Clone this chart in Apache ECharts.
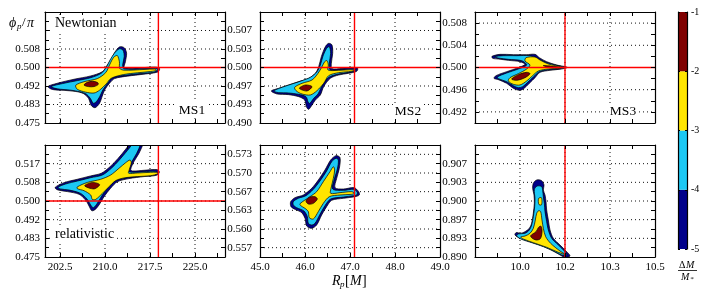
<!DOCTYPE html>
<html><head><meta charset="utf-8">
<script src="https://cdn.jsdelivr.net/npm/echarts@6/dist/echarts.min.js"></script>
<style>html,body{margin:0;padding:0;background:#fff}#c{width:710px;height:298px}</style>
</head><body><div id="c"></div>
<script>
// ---------------- axis data ----------------
const rangeMS1X = [200, 230];
const ticksMS1X = [202.5, 210.0, 217.5, 225.0];
const minorMS1X = [206.25, 213.75, 221.25, 228.75];
const labelsMS1X = ['202.5', '210.0', '217.5', '225.0'];

const rangeMS2X = [45, 49];
const ticksMS2X = [45, 46, 47, 48, 49];
const minorMS2X = [45.5, 46.5, 47.5, 48.5];
const labelsMS2X = ['45.0', '46.0', '47.0', '48.0', '49.0'];

const rangeMS3X = [9.85, 10.45];
const ticksMS3X = [10.0, 10.15, 10.3, 10.45];
const minorMS3X = [9.925, 10.075, 10.225, 10.375];
const labelsMS3X = ['10.0', '10.2', '10.3', '10.5'];

const rangeY1 = [0.475, 0.525];
const ticksY1 = [0.475, 0.483333, 0.491667, 0.5, 0.508333, 0.516667];
const minorY1 = [0.479167, 0.4875, 0.495833, 0.504167, 0.5125, 0.520833];
const labelsY1 = ['0.475', '0.483', '0.492', '0.500', '0.508'];
const labelsY4 = ['0.475', '0.483', '0.492', '0.500', '0.508', '0.517'];

const rangeY2 = [0.49, 0.51];
const ticksY2 = [0.49, 0.493333, 0.496667, 0.5, 0.503333, 0.506667];
const minorY2 = [0.491667, 0.495, 0.498333, 0.501667, 0.505, 0.508333];
const labelsY2 = ['0.490', '0.493', '0.497', '0.500', '0.503', '0.507'];

const rangeY3 = [0.49, 0.51];
const ticksY3 = [0.492, 0.496, 0.5, 0.504, 0.508];
const minorY3 = [0.494, 0.498, 0.502, 0.506];
const labelsY3 = ['0.492', '0.496', '0.500', '0.504', '0.508'];

const rangeY5 = [0.555, 0.575];
const ticksY5 = [0.556667, 0.56, 0.563333, 0.566667, 0.57, 0.573333];
const minorY5 = [0.558333, 0.561667, 0.565, 0.568333, 0.571667];
const labelsY5 = ['0.557', '0.560', '0.563', '0.567', '0.570', '0.573'];

const rangeY6 = [0.89, 0.91];
const ticksY6 = [0.89, 0.893333, 0.896667, 0.9, 0.903333, 0.906667];
const minorY6 = [0.891667, 0.895, 0.898333, 0.901667, 0.905, 0.908333];
const labelsY6 = ['0.890', '0.893', '0.897', '0.900', '0.903', '0.907'];

// true parameters (red cross-hairs)
const trueRp = [218.9, 47.1, 10.15];
const truePhi = 0.5;

// colour levels log10(dM/M*)
const levelBounds = [-5, -4, -3, -2, -1];

// ---------------- contour polygons (Rp, phi/pi) ----------------
const ms1NewNavy = [[200.5,0.4914],[202.05,0.4929],[204.83,0.4947],[207.62,0.4962],[209.55,0.4981],[210.3,0.5007],[211.1,0.5041],[211.7,0.5071],[212.45,0.5093],[213.2,0.5089],[213.6,0.5064],[213.4,0.5026],[213.25,0.5000],[215.95,0.4999],[218.45,0.5002],[219.1,0.4995],[218.83,0.4980],[216.5,0.4970],[213.72,0.4961],[211.6,0.4950],[210.75,0.4929],[209.95,0.4899],[209.5,0.4868],[209.1,0.4839],[208.35,0.4819],[207.7,0.4829],[207.25,0.4861],[206.45,0.4882],[205.12,0.4892],[203.17,0.4897],[201.22,0.4901]];
const ms1NewCyan = [[201.05,0.4914],[203.17,0.4929],[205.39,0.4941],[207.62,0.4954],[209.38,0.4974],[210.2,0.5001],[210.85,0.5034],[211.55,0.5064],[212.38,0.5084],[213.0,0.5078],[213.2,0.5049],[212.95,0.5011],[213.17,0.4994],[216.5,0.4994],[218.5,0.4996],[218.8,0.4989],[218.17,0.4979],[215.95,0.4973],[213.45,0.4965],[211.3,0.4955],[210.45,0.4929],[209.65,0.4899],[209.1,0.4868],[208.55,0.4846],[208.05,0.4839],[207.55,0.4861],[206.9,0.4880],[205.95,0.4890],[204.28,0.4898],[202.05,0.4904]];
const ms1NewYellow = [[205.12,0.4920],[206.5,0.4936],[208.72,0.4950],[210.12,0.4977],[210.8,0.5014],[211.45,0.5046],[212.05,0.5054],[212.4,0.5026],[212.45,0.4996],[213.17,0.4988],[216.5,0.4991],[218.28,0.4993],[218.55,0.4987],[217.62,0.4982],[215.38,0.4976],[213.05,0.4968],[211.0,0.4951],[210.2,0.4926],[209.1,0.4898],[208.17,0.4885],[206.78,0.4889],[205.38,0.4902]];
const ms1NewRed = [[206.5,0.4921],[207.05,0.4933],[207.88,0.4938],[208.72,0.4933],[208.88,0.4924],[208.17,0.4914],[207.22,0.4914]];

const ms2NewNavy = [[45.252,0.49577],[45.415,0.49625],[45.637,0.49685],[45.859,0.49745],[46.081,0.49805],[46.230,0.49895],[46.304,0.50015],[46.363,0.50195],[46.452,0.50375],[46.526,0.50435],[46.6,0.50405],[46.615,0.50255],[46.585,0.50075],[46.6,0.49979],[46.822,0.49985],[47.044,0.50003],[47.170,0.49985],[47.148,0.49931],[46.970,0.49895],[46.748,0.49865],[46.563,0.49805],[46.415,0.49655],[46.341,0.49505],[46.230,0.49414],[46.156,0.49324],[46.081,0.49246],[46.030,0.49294],[45.993,0.49414],[45.859,0.49475],[45.637,0.49511],[45.378,0.49523]];
const ms2NewCyan = [[45.311,0.49577],[45.489,0.49643],[45.711,0.49703],[45.933,0.49763],[46.119,0.49823],[46.267,0.49925],[46.341,0.50045],[46.4,0.50207],[46.481,0.50345],[46.541,0.50375],[46.570,0.50255],[46.541,0.50075],[46.563,0.49955],[46.822,0.49961],[47.044,0.49973],[47.126,0.49961],[47.104,0.49937],[46.970,0.49913],[46.748,0.49883],[46.526,0.49823],[46.378,0.49667],[46.289,0.49523],[46.193,0.49444],[46.104,0.49354],[46.067,0.49384],[46.022,0.49475],[45.859,0.49517],[45.637,0.49541],[45.415,0.49547]];
const ms2NewYellow = [[45.770,0.49643],[45.933,0.49715],[46.156,0.49775],[46.289,0.49895],[46.378,0.50015],[46.437,0.50105],[46.489,0.50123],[46.519,0.50045],[46.511,0.49955],[46.748,0.49949],[47.044,0.49961],[47.096,0.49943],[46.970,0.49925],[46.748,0.49907],[46.526,0.49853],[46.415,0.49715],[46.267,0.49583],[46.119,0.49505],[45.933,0.49523],[45.8,0.49583]];
const ms2NewRed = [[45.874,0.49625],[46.007,0.49685],[46.156,0.49655],[46.044,0.49577]];

const ms3NewNavy = [[9.9067,0.50201],[9.9333,0.50237],[9.9778,0.50231],[10.0222,0.50231],[10.05,0.50237],[10.0644,0.50177],[10.0889,0.50105],[10.1222,0.50045],[10.1578,0.50003],[10.1389,0.49973],[10.1,0.49949],[10.0667,0.49913],[10.05,0.49817],[10.0311,0.49715],[10.0111,0.49613],[9.9978,0.49589],[9.9778,0.49625],[9.9556,0.49715],[9.9278,0.49781],[9.9133,0.49805],[9.92,0.49853],[9.9556,0.49925],[9.9944,0.49997],[10.0167,0.50057],[10.0,0.50105],[9.9611,0.50129],[9.9278,0.50153],[9.9089,0.50165]];
const ms3NewCyan = [[9.9156,0.50195],[9.9444,0.50213],[9.9889,0.50213],[10.0333,0.50213],[10.0556,0.50165],[10.0889,0.50087],[10.1278,0.50033],[10.15,0.49997],[10.1278,0.49979],[10.0944,0.49961],[10.0644,0.49925],[10.0444,0.49829],[10.0256,0.49733],[10.0089,0.49655],[9.9944,0.49637],[9.9778,0.49673],[9.9556,0.49745],[9.9278,0.49799],[9.9244,0.49829],[9.9556,0.49901],[9.9944,0.49973],[10.0222,0.50045],[10.0056,0.50123],[9.9611,0.50147],[9.9278,0.50171]];
const ms3NewYellow = [[10.02,0.50177],[10.05,0.50189],[10.0667,0.50135],[10.0944,0.50063],[10.1389,0.50009],[10.1333,0.49985],[10.0944,0.49973],[10.0611,0.49937],[10.0422,0.49853],[10.0222,0.49757],[10.0,0.49685],[9.9778,0.49697],[9.9611,0.49757],[9.9667,0.49817],[9.9944,0.49889],[10.0222,0.49973],[10.0333,0.50045],[10.0167,0.50117]];
const ms3NewRed = [[9.9722,0.49793],[9.9944,0.49871],[10.0222,0.49913],[10.0333,0.49889],[10.0167,0.49817],[9.9889,0.49769]];
const ms3NewRed2 = [[10.0778,0.50033],[10.1111,0.50021],[10.1333,0.50003],[10.1056,0.49997]];

const ms1RelNavy = [[201.67,0.5060],[203.17,0.5082],[205.39,0.5097],[207.61,0.5112],[209.39,0.5124],[210.83,0.5153],[212.17,0.5190],[213.44,0.5231],[214.39,0.5265],[215.11,0.5295],[216.78,0.5295],[216.39,0.5257],[215.67,0.5213],[214.83,0.5176],[214.28,0.5141],[214.56,0.5134],[216.5,0.5137],[218.72,0.5140],[219.06,0.5129],[218.61,0.5115],[216.5,0.5109],[214.0,0.5100],[212.06,0.5086],[210.94,0.5057],[209.83,0.5019],[209.0,0.4982],[208.28,0.4960],[207.78,0.4957],[207.33,0.4978],[206.78,0.5004],[205.67,0.5030],[203.72,0.5042],[202.17,0.5049]];
const ms1RelCyan = [[202.17,0.5061],[203.44,0.5076],[205.39,0.5089],[207.61,0.5104],[209.56,0.5116],[211.06,0.5146],[212.39,0.5183],[213.72,0.5225],[214.61,0.5257],[215.28,0.5295],[216.28,0.5295],[215.94,0.5254],[215.28,0.5213],[214.39,0.5171],[213.83,0.5135],[214.56,0.5128],[216.5,0.5131],[218.44,0.5132],[218.72,0.5125],[218.17,0.5118],[216.5,0.5115],[214.0,0.5106],[211.94,0.5094],[210.67,0.5064],[209.56,0.5027],[208.72,0.4990],[208.06,0.4970],[207.61,0.4982],[207.06,0.5007],[205.94,0.5034],[204.0,0.5049],[202.5,0.5054]];
const ms1RelYellow = [[205.39,0.5063],[207.06,0.5083],[209.28,0.5097],[210.94,0.5116],[212.33,0.5146],[213.44,0.5171],[214.17,0.5183],[214.39,0.5171],[214.06,0.5141],[213.94,0.5124],[215.39,0.5125],[217.61,0.5128],[218.61,0.5128],[218.83,0.5122],[217.61,0.5113],[215.39,0.5109],[213.17,0.5103],[211.78,0.5091],[210.67,0.5064],[209.56,0.5034],[208.44,0.5007],[207.89,0.5007],[207.61,0.5027],[206.5,0.5046],[205.39,0.5055]];
const ms1RelRed = [[206.61,0.5068],[207.89,0.5083],[209.11,0.5073],[208.17,0.5054]];

const ms2RelNavy = [[45.681,0.56488],[45.778,0.56560],[45.963,0.56607],[46.148,0.56726],[46.296,0.56875],[46.444,0.57054],[46.570,0.57232],[46.689,0.57310],[46.778,0.57274],[46.763,0.57083],[46.704,0.56905],[46.667,0.56738],[46.852,0.56714],[47.089,0.56738],[47.193,0.56667],[47.207,0.56607],[47.111,0.56577],[46.852,0.56548],[46.593,0.56512],[46.481,0.56399],[46.370,0.5625],[46.259,0.56071],[46.148,0.56012],[46.037,0.56054],[46.0,0.56190],[45.926,0.56292],[45.778,0.56351],[45.689,0.56399]];
const ms2RelCyan = [[45.741,0.56488],[45.852,0.56548],[46.022,0.56595],[46.185,0.56708],[46.333,0.56857],[46.481,0.57036],[46.593,0.57202],[46.689,0.57262],[46.741,0.57232],[46.719,0.57071],[46.652,0.56893],[46.615,0.56714],[46.852,0.56690],[47.089,0.56708],[47.163,0.56649],[47.148,0.56607],[47.074,0.56595],[46.852,0.56571],[46.570,0.56536],[46.444,0.56417],[46.333,0.56262],[46.222,0.56101],[46.148,0.56071],[46.074,0.56101],[46.052,0.56220],[45.978,0.56321],[45.815,0.56381],[45.741,0.56429]];
const ms2RelYellow = [[45.889,0.56452],[46.111,0.56577],[46.259,0.56667],[46.407,0.56845],[46.556,0.57024],[46.630,0.57113],[46.659,0.57054],[46.630,0.56905],[46.578,0.56726],[46.570,0.56637],[46.778,0.56649],[47.037,0.56667],[47.096,0.56637],[47.037,0.56619],[46.778,0.56607],[46.541,0.56577],[46.407,0.56458],[46.296,0.56310],[46.185,0.56179],[46.096,0.56202],[46.074,0.56310],[46.0,0.56369],[45.904,0.56417]];
const ms2RelRed = [[46.022,0.56500],[46.096,0.56566],[46.222,0.56577],[46.274,0.56536],[46.185,0.56458],[46.074,0.56446]];

const ms3RelNavy = [[10.0444,0.90316],[10.0556,0.90375],[10.0722,0.90363],[10.08,0.90286],[10.0778,0.90196],[10.0833,0.90107],[10.0867,0.89988],[10.0889,0.89839],[10.0944,0.89661],[10.1,0.89482],[10.1111,0.89333],[10.1333,0.89214],[10.1556,0.89095],[10.1667,0.89018],[10.15,0.88994],[10.1278,0.89054],[10.1,0.89137],[10.0667,0.89214],[10.0333,0.89274],[10.0,0.89333],[9.9833,0.89393],[9.9867,0.89435],[10.0022,0.89423],[10.0167,0.89452],[10.0311,0.89512],[10.0389,0.89601],[10.0444,0.89780],[10.0478,0.89958],[10.0467,0.90107],[10.0422,0.90226]];
const ms3RelCyan = [[10.0478,0.90208],[10.0578,0.90268],[10.0722,0.90256],[10.0756,0.90185],[10.0778,0.90077],[10.0811,0.89958],[10.0833,0.89810],[10.0889,0.89631],[10.0944,0.89482],[10.1056,0.89333],[10.1278,0.89214],[10.15,0.89095],[10.1556,0.89036],[10.1389,0.89036],[10.1111,0.89107],[10.0778,0.89185],[10.0389,0.89256],[10.0056,0.89315],[9.9889,0.89375],[9.9944,0.89411],[10.0167,0.89423],[10.0311,0.89482],[10.0389,0.89571],[10.0444,0.89720],[10.0489,0.89899],[10.05,0.90048]];
const ms3RelYellow = [[10.0622,0.89827],[10.0689,0.89810],[10.0733,0.89661],[10.0778,0.89512],[10.0856,0.89363],[10.1022,0.89244],[10.1333,0.89107],[10.15,0.89048],[10.1278,0.89083],[10.0889,0.89173],[10.0444,0.89256],[10.0111,0.89321],[10.0022,0.89357],[10.0167,0.89375],[10.0333,0.89423],[10.0444,0.89512],[10.0511,0.89661],[10.0556,0.89780]];
const ms3RelYellow2 = [[10.0622,0.90048],[10.0711,0.90060],[10.0733,0.89988],[10.0711,0.89929],[10.0633,0.89935],[10.0611,0.89988]];
const ms3RelRed = [[10.0533,0.89452],[10.0611,0.89524],[10.0689,0.89553],[10.0733,0.89494],[10.0722,0.89393],[10.0667,0.89321],[10.0533,0.89304],[10.04,0.89339],[10.0356,0.89381]];

// ---------------- styles / layout ----------------
const FONT = 'Liberation Serif';
const levelColors = ['#00008a', '#1cc8f4', '#ffe500', '#7f0000'];

const panels = [
  {box:[45,12,180,111], xr:rangeMS1X, xt:ticksMS1X, xm:minorMS1X, xl:labelsMS1X, showX:false,
   yr:rangeY1, yt:ticksY1, ym:minorY1, yl:labelsY1, ym2:5, rp:trueRp[0],
   polys:[ms1NewNavy, ms1NewCyan, ms1NewYellow, ms1NewRed], lv:[0,1,2,3]},
  {box:[260,12,180,111], xr:rangeMS2X, xt:ticksMS2X, xm:minorMS2X, xl:labelsMS2X, showX:false,
   yr:rangeY2, yt:ticksY2, ym:minorY2, yl:labelsY2, ym2:8, rp:trueRp[1],
   polys:[ms2NewNavy, ms2NewCyan, ms2NewYellow, ms2NewRed], lv:[0,1,2,3]},
  {box:[475,12,180,111], xr:rangeMS3X, xt:ticksMS3X, xm:minorMS3X, xl:labelsMS3X, showX:false,
   yr:rangeY3, yt:ticksY3, ym:minorY3, yl:labelsY3, ym2:8, rp:trueRp[2],
   polys:[ms3NewNavy, ms3NewCyan, ms3NewYellow, ms3NewRed, ms3NewRed2], lv:[0,1,2,3,3]},
  {box:[45,145,180,112], xr:rangeMS1X, xt:ticksMS1X, xm:minorMS1X, xl:labelsMS1X, showX:true,
   yr:rangeY1, yt:ticksY1, ym:minorY1, yl:labelsY4, ym2:5, rp:trueRp[0],
   polys:[ms1RelNavy, ms1RelCyan, ms1RelYellow, ms1RelRed], lv:[0,1,2,3]},
  {box:[260,145,180,112], xr:rangeMS2X, xt:ticksMS2X, xm:minorMS2X, xl:labelsMS2X, showX:true,
   yr:rangeY5, yt:ticksY5, ym:minorY5, yl:labelsY5, ym2:8, rp:trueRp[1],
   polys:[ms2RelNavy, ms2RelCyan, ms2RelYellow, ms2RelRed], lv:[0,1,2,3]},
  {box:[475,145,180,112], xr:rangeMS3X, xt:ticksMS3X, xm:minorMS3X, xl:labelsMS3X, showX:true,
   yr:rangeY6, yt:ticksY6, ym:minorY6, yl:labelsY6, ym2:8, rp:trueRp[2],
   polys:[ms3RelNavy, ms3RelCyan, ms3RelYellow, ms3RelYellow2, ms3RelRed], lv:[0,1,2,2,3]}
];

function lookup(ticks, labels) {
  return function (v) {
    for (let i = 0; i < labels.length; i++) if (Math.abs(v - ticks[i]) < 1e-6) return labels[i];
    return '';
  };
}
function clipOf(params) {
  const cs = params.coordSys;
  return {type:'rect', shape:{x:cs.x, y:cs.y, width:cs.width, height:cs.height}};
}
function segItem(color, width, dash) {
  return function (params, api) {
    const a = api.coord([api.value(0), api.value(1)]);
    const b = api.coord([api.value(2), api.value(3)]);
    return {type:'line', shape:{x1:a[0], y1:a[1], x2:b[0], y2:b[1]},
      style:{stroke:color, lineWidth:width, lineDash:dash || null}, clipPath: clipOf(params)};
  };
}

const grids = [], xAxes = [], yAxes = [], series = [];
const axLine = {show:true, onZero:false, lineStyle:{color:'#000', width:1.2}};
const tickBase = {show:true, inside:true, length:4, lineStyle:{color:'#000', width:1}};
const lblBase = {color:'#000', fontFamily:FONT, fontSize:11};

panels.forEach(function (p, i) {
  grids.push({left:p.box[0], top:p.box[1], width:p.box[2], height:p.box[3], containLabel:false, outerBoundsMode:'none'});
  const xTicks = p.xt.concat(p.xm), yTicks = p.yt.concat(p.ym);
  ['bottom', 'top'].forEach(function (pos) {
    xAxes.push({gridIndex:i, type:'value', position:pos, min:p.xr[0], max:p.xr[1], z:10,
      axisLine:axLine, axisTick:Object.assign({customValues:xTicks}, tickBase),
      axisLabel:Object.assign({show:pos === 'bottom' && p.showX, customValues:p.xt, formatter:lookup(p.xt, p.xl), margin:5}, lblBase),
      splitLine:{show:false}});
  });
  ['left', 'right'].forEach(function (pos) {
    yAxes.push({gridIndex:i, type:'value', position:pos, min:p.yr[0], max:p.yr[1], z:10,
      axisLine:axLine, axisTick:Object.assign({customValues:yTicks}, tickBase),
      axisLabel:Object.assign({show:pos === 'left', customValues:p.yt.slice(0, p.yl.length), formatter:lookup(p.yt, p.yl), margin:p.ym2}, lblBase),
      splitLine:{show:false}});
  });
  const xi = 2 * i, yi = 2 * i;
  // dotted grid
  const gl = [];
  p.xt.forEach(function (v) { if (v > p.xr[0] && v < p.xr[1]) gl.push([v, p.yr[0], v, p.yr[1]]); });
  p.yt.forEach(function (v) { if (v > p.yr[0] && v < p.yr[1]) gl.push([p.xr[0], v, p.xr[1], v]); });
  series.push({type:'custom', xAxisIndex:xi, yAxisIndex:yi, z:1, silent:true, data:gl,
    encode:{x:[0, 2], y:[1, 3]}, renderItem:segItem('#111', 1, [1, 3])});
  // filled contours
  series.push({type:'custom', xAxisIndex:xi, yAxisIndex:yi, z:2, silent:true,
    data:p.polys.map(function (poly) { return [poly[0][0], poly[0][1]]; }),
    renderItem:function (params, api) {
      const k = params.dataIndex;
      const pts = p.polys[k].map(function (q) { return api.coord(q); });
      return {type:'polygon', shape:{points:pts, smooth:0.3},
        style:{fill:levelColors[p.lv[k]], stroke:'#000', lineWidth:0.7},
        clipPath:clipOf(params)};
    }});
  // true value cross-hair
  const rl = [[p.rp, p.yr[0], p.rp, p.yr[1]]];
  if (truePhi > p.yr[0] && truePhi < p.yr[1]) rl.push([p.xr[0], truePhi, p.xr[1], truePhi]);
  series.push({type:'custom', xAxisIndex:xi, yAxisIndex:yi, z:3, silent:true, data:rl,
    encode:{x:[0, 2], y:[1, 3]}, renderItem:segItem('#ff0000', 1.4)});
});

// colour bar
grids.push({left:678, top:12, width:9, height:237, containLabel:false, outerBoundsMode:'none'});
xAxes.push({gridIndex:6, type:'value', min:0, max:1, show:false});
yAxes.push({gridIndex:6, type:'value', position:'right', min:levelBounds[0], max:levelBounds[levelBounds.length - 1], interval:1, z:10,
  axisLine:axLine, axisTick:{show:true, inside:true, length:2, lineStyle:{color:'#000'}},
  axisLabel:Object.assign({margin:4, formatter:function (v) { return String(v); }}, lblBase, {fontSize:10}), splitLine:{show:false}});
yAxes.push({gridIndex:6, type:'value', position:'left', min:levelBounds[0], max:levelBounds[levelBounds.length - 1], interval:1, z:10,
  axisLine:axLine, axisTick:{show:true, inside:true, length:2, lineStyle:{color:'#000'}}, axisLabel:{show:false}, splitLine:{show:false}});
const cbData = [];
for (let k = 0; k < levelBounds.length - 1; k++) cbData.push([0, levelBounds[k], 1, levelBounds[k + 1], k]);
series.push({type:'custom', xAxisIndex:12, yAxisIndex:12, z:2, silent:true, data:cbData,
  encode:{x:[0, 2], y:[1, 3]},
  renderItem:function (params, api) {
    const a = api.coord([api.value(0), api.value(3)]);
    const b = api.coord([api.value(2), api.value(1)]);
    return {type:'rect', shape:{x:a[0], y:a[1], width:b[0] - a[0], height:b[1] - a[1]},
      style:{fill:levelColors[api.value(4)]}};
  }});

function txt(x, y, s, size, opt) {
  return {type:'text', x:x, y:y, z:100, silent:true,
    style:{text:s, font:(opt && opt.italic ? 'italic ' : '') + size + 'px "' + FONT + '"', fill:'#000',
      align:(opt && opt.align) || 'left', verticalAlign:'middle',
      textAlign:(opt && opt.align) || 'left', textVerticalAlign:'middle',
      backgroundColor:(opt && opt.bg) ? '#fff' : null, padding:(opt && opt.bg) ? [1, 2, 1, 2] : 0}};
}

const graphics = [
  txt(53, 23, 'Newtonian', 14, {bg:true}),
  txt(53, 234, 'relativistic', 14, {bg:true}),
  txt(192, 110, 'MS1', 13.5, {bg:true, align:'center'}),
  txt(408, 111, 'MS2', 13.5, {bg:true, align:'center'}),
  txt(623, 111, 'MS3', 13.5, {bg:true, align:'center'}),
  txt(9, 23, 'ϕ', 14, {italic:true}),
  txt(17, 27, 'p', 9, {italic:true}),
  txt(22, 23, '/', 13, {}),
  txt(27, 23, 'π', 14, {italic:true}),
  txt(332, 281, 'R', 14, {italic:true}),
  txt(340, 285, 'p', 9, {italic:true}),
  txt(345, 281, '[', 14, {}),
  txt(350, 281, 'M', 14, {italic:true}),
  txt(362, 281, ']', 14, {}),
  txt(679, 265, 'Δ', 10, {}),
  txt(686, 265, 'M', 10, {italic:true}),
  {type:'line', z:100, silent:true, shape:{x1:678, y1:270.5, x2:697, y2:270.5}, style:{stroke:'#000', lineWidth:0.8}},
  txt(681, 277, 'M', 10, {italic:true}),
  txt(690, 279, '*', 7, {italic:true})
];

const chart = echarts.init(document.getElementById('c'), null, {renderer:'canvas'});
chart.setOption({
  animation:false,
  backgroundColor:'#fff',
  grid:grids, xAxis:xAxes, yAxis:yAxes, series:series, graphic:graphics
});
</script></body></html>
